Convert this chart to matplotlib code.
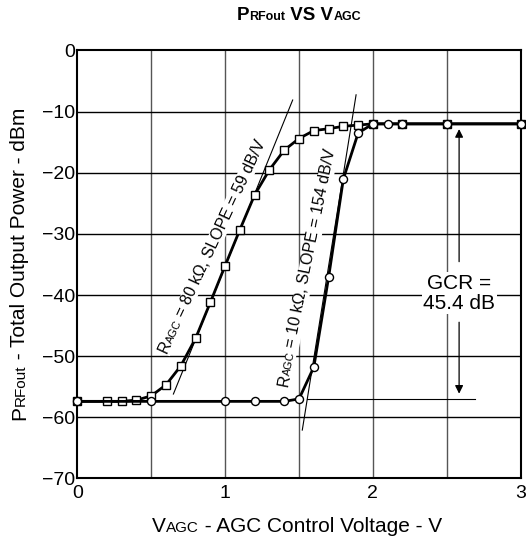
import numpy as np
import matplotlib
matplotlib.use('Agg')
import matplotlib.pyplot as plt

plt.rcParams['font.family'] = ['Liberation Sans', 'DejaVu Sans']

# R_AGC = 80 kOhm (squares)
v_sq = [0.0, 0.2, 0.3, 0.4, 0.5, 0.6, 0.7, 0.8, 0.9, 1.0, 1.1, 1.2, 1.3, 1.4, 1.5,
        1.6, 1.7, 1.8, 1.9, 2.0, 2.2, 2.5, 3.0]
p_sq = [-57.4, -57.4, -57.4, -57.2, -56.5, -54.7, -51.6, -47.1, -41.2, -35.2, -29.3,
        -23.6, -19.5, -16.3, -14.4, -13.1, -12.8, -12.4, -12.2, -12.0, -12.0, -12.0, -12.0]

# R_AGC = 10 kOhm (circles)
v_ci = [0.0, 0.5, 1.0, 1.2, 1.4, 1.5, 1.6, 1.7, 1.8, 1.9, 2.0, 2.1, 2.2, 2.5, 3.0]
p_ci = [-57.4, -57.4, -57.4, -57.4, -57.4, -57.0, -51.8, -37.1, -21.0, -13.5, -12.0,
        -12.0, -12.0, -12.0, -12.0]

# tangent lines (endpoints)
tan_sq_v = [0.65, 1.457]
tan_sq_p = [-56.2, -8.1]
tan_ci_v = [1.522, 1.886]
tan_ci_p = [-62.1, -7.25]

fig = plt.figure(figsize=(5.26, 5.43), dpi=100)
ax = fig.add_axes([0.147, 0.119, 0.843, 0.788])
ax.set_xlim(0, 3)
ax.set_ylim(-70, 0)

# grid
for xv in np.arange(0.5, 3, 0.5):
    ax.axvline(xv, color='#555555', lw=1, zorder=1)
for yv in np.arange(-60, 0, 10):
    ax.axhline(yv, color='black', lw=1, zorder=1)

ax.set_xticks([0, 1, 2, 3])
ax.set_yticks(np.arange(-70, 1, 10))
ax.tick_params(length=0, labelsize=14)
ax.tick_params(axis='x', pad=5)
ax.tick_params(axis='y', pad=1.5)
for s in ax.spines.values():
    s.set_linewidth(1.5)

# tangents
ax.plot(tan_sq_v, tan_sq_p, color='black', lw=0.8, zorder=2)
ax.plot(tan_ci_v, tan_ci_p, color='black', lw=0.8, zorder=2)

ax.plot(v_sq, p_sq, color='black', lw=2, marker='s', ms=5.3, mfc='white', mec='black',
        mew=1, zorder=3, clip_on=False)
ax.plot(v_ci, p_ci, color='black', lw=2, marker='o', ms=5.8, mfc='white', mec='black',
        mew=1, zorder=4, clip_on=False)

# GCR
ax.plot([1.552, 2.69], [-57.05, -57.05], color='black', lw=0.8, zorder=2)
ax.annotate('', xy=(2.583, -12.4), xytext=(2.583, -35),
            arrowprops=dict(arrowstyle='-|>', color='black', lw=0.9, mutation_scale=12))
ax.annotate('', xy=(2.583, -56.6), xytext=(2.583, -44),
            arrowprops=dict(arrowstyle='-|>', color='black', lw=0.9, mutation_scale=12))
ax.text(2.583, -39.7, 'GCR =\n45.4 dB', fontsize=15, ha='center', va='center',
        linespacing=1.05, zorder=5,
        bbox=dict(facecolor='white', edgecolor='none', pad=1))

renderer = fig.canvas.get_renderer()


def rich(x, y, pieces, coords, rotation=0.0, weight='normal', perp=0.0, bg=False):
    widths = []
    for s, fs in pieces:
        t = fig.text(0, 0, s, fontsize=fs, weight=weight)
        widths.append(t.get_window_extent(renderer=renderer).width)
        t.remove()
    total = sum(widths)
    a = np.radians(rotation)
    k = 72 / fig.dpi
    cum = -total / 2
    for (s, fs), w in zip(pieces, widths):
        dx = cum * np.cos(a) * k - perp * np.sin(a)
        dy = cum * np.sin(a) * k + perp * np.cos(a)
        kw = {}
        if bg:
            kw['bbox'] = dict(facecolor='white', edgecolor='none', pad=0.3)
        ax.annotate(s, (x, y), xycoords=coords, xytext=(dx, dy), textcoords='offset points',
                    fontsize=fs, rotation=rotation, rotation_mode='anchor', ha='left',
                    va='baseline', weight=weight, annotation_clip=False, zorder=5, **kw)
        cum += w


# title and axis labels
rich(299, 523, [('P', 13.5), ('RFout', 9), (' VS V', 13.5), ('AGC', 9)], 'figure pixels',
     weight='bold')
rich(297, 11, [('V', 15), ('AGC', 11), (' - AGC Control Voltage - V', 15)], 'figure pixels')
rich(25, 279, [('P', 15), ('RFout', 11), (' - Total Output Power - dBm', 15)],
     'figure pixels', rotation=90)

# curve annotations
rich(0.905, -32.0, [('R', 11.5), ('AGC', 8), (' = 80 k\u03a9, SLOPE = 59 dB/V', 11.5)],
     'data', rotation=65, perp=-4.0, bg=True)
rich(1.548, -35.5, [('R', 11.5), ('AGC', 8), (' = 10 k\u03a9, SLOPE = 154 dB/V', 11.5)],
     'data', rotation=78.5, perp=-4.0, bg=True)

fig.savefig('out.png', dpi=100)
